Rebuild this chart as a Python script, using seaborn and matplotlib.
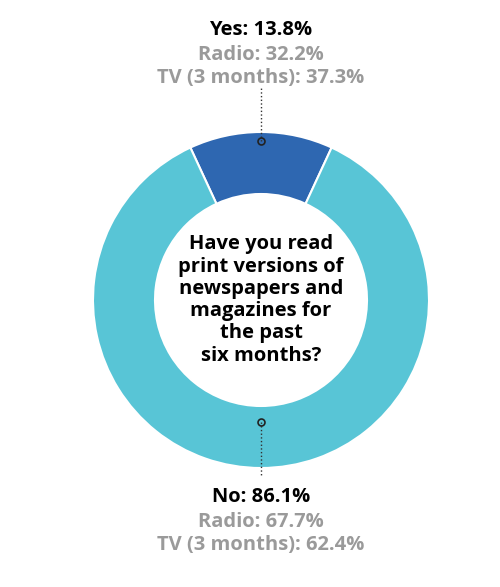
import matplotlib
matplotlib.use("Agg")
import matplotlib.pyplot as plt
import seaborn as sns

sns.set_theme(style="white")
plt.rcParams['font.family'] = ['Open Sans', 'DejaVu Sans']

labels = ["Yes", "No"]
values = [13.8, 86.1]
radio = [32.2, 67.7]
tv = [37.3, 62.4]
colors = ["#2E67B1", "#58C5D6"]
question = "Have you read\nprint versions of\nnewspapers and\nmagazines for\nthe past\nsix months?"

fig = plt.figure(figsize=(5, 5.87), dpi=100)
ax = fig.add_axes([0, 0, 1, 1])
H = 587
cx, cy = 261, H - 300
R = 168
yes_deg = values[0] / sum(values) * 360
ax.pie(values, colors=colors, startangle=90 + yes_deg / 2, counterclock=False,
       center=(cx, cy), radius=R, frame=True,
       wedgeprops=dict(width=62, edgecolor="white", linewidth=1.5))
ax.set_xlim(0, 500)
ax.set_ylim(0, H)
ax.set_aspect("equal")
ax.axis("off")

ax.text(cx, cy, question, ha="center", va="center", fontsize=14.5,
        fontweight="bold", color="black", linespacing=1.15)

gray = "#9A9A9A"
for py_m, py_l, ytexts, i in [(141, 88, (30, 55, 78), 0), (422, 475, (497, 522, 545), 1)]:
    ax.plot([cx, cx], [H - py_m, H - py_l], ls=":", color="#333333", lw=1)
    ax.plot(cx, H - py_m, "o", ms=5, mfc="none", mec="#222222", mew=1.2)
    ax.text(cx, H - ytexts[0], f"{labels[i]}: {values[i]}%", ha="center", va="center",
            fontsize=14.5, fontweight="bold", color="black")
    ax.text(cx, H - ytexts[1], f"Radio: {radio[i]}%", ha="center", va="center",
            fontsize=14.5, fontweight="bold", color=gray)
    ax.text(cx, H - ytexts[2], f"TV (3 months): {tv[i]}%", ha="center", va="center",
            fontsize=14.5, fontweight="bold", color=gray)

fig.savefig("out.png", dpi=100, facecolor="white")
